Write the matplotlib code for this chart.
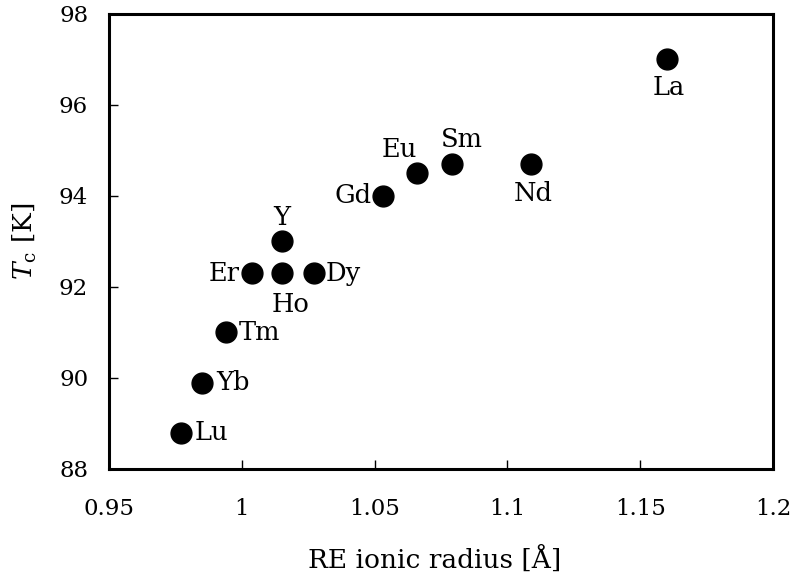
import matplotlib
matplotlib.use("Agg")
import matplotlib.pyplot as plt

plt.rcParams["font.family"] = "DejaVu Serif"
plt.rcParams["mathtext.fontset"] = "dejavuserif"

# RE ionic radius [A] and Tc [K] for each rare earth
elements = ["La", "Nd", "Sm", "Eu", "Gd", "Dy", "Ho", "Y", "Er", "Tm", "Yb", "Lu"]
radius = [1.160, 1.109, 1.079, 1.066, 1.053, 1.027, 1.015, 1.015, 1.004, 0.994, 0.985, 0.977]
tc = [97.0, 94.7, 94.7, 94.5, 94.0, 92.3, 92.3, 93.0, 92.3, 91.0, 89.9, 88.8]

# label offsets in pixels (dx, dy) and horizontal alignment
label_pos = {
    "La": (2, -28, "center"),
    "Nd": (2, -29, "center"),
    "Sm": (10, 25, "center"),
    "Eu": (-18, 24, "center"),
    "Gd": (-11, 0, "right"),
    "Dy": (12, 0, "left"),
    "Ho": (9, -31, "center"),
    "Y": (0, 24, "center"),
    "Er": (-13, 0, "right"),
    "Tm": (13, 0, "left"),
    "Yb": (14, 0, "left"),
    "Lu": (14, 0, "left"),
}

fig = plt.figure(figsize=(7.94, 5.76), dpi=100)
ax = fig.add_axes([0.1373, 0.1858, 0.8363, 0.7899])

ax.scatter(radius, tc, s=225, color="black", zorder=3)

for name, x, y in zip(elements, radius, tc):
    dx, dy, ha = label_pos[name]
    ax.annotate(name, (x, y), xytext=(dx, dy), textcoords="offset pixels",
                ha=ha, va="center", fontsize=18.5)

ax.set_xlim(0.95, 1.2)
ax.set_ylim(88, 98)
ax.set_xticks([0.95, 1.0, 1.05, 1.1, 1.15, 1.2])
ax.set_xticklabels(["0.95", "1", "1.05", "1.1", "1.15", "1.2"])
ax.set_yticks([88, 90, 92, 94, 96, 98])

for side in ["left", "right", "top", "bottom"]:
    ax.spines[side].set_linewidth(2.2)

ax.tick_params(axis="both", direction="in", length=6.5, width=1.0, labelsize=16.5)
ax.tick_params(axis="x", pad=21)
ax.tick_params(axis="y", pad=15)

ax.set_xlabel("RE ionic radius [Å]", fontsize=19)
ax.xaxis.set_label_coords(0.49, -0.168)
ax.set_ylabel(r"$T_\mathrm{c}$ [K]", fontsize=19)
ax.yaxis.set_label_coords(-0.105, 0.5)

fig.savefig("out.png", dpi=100)
